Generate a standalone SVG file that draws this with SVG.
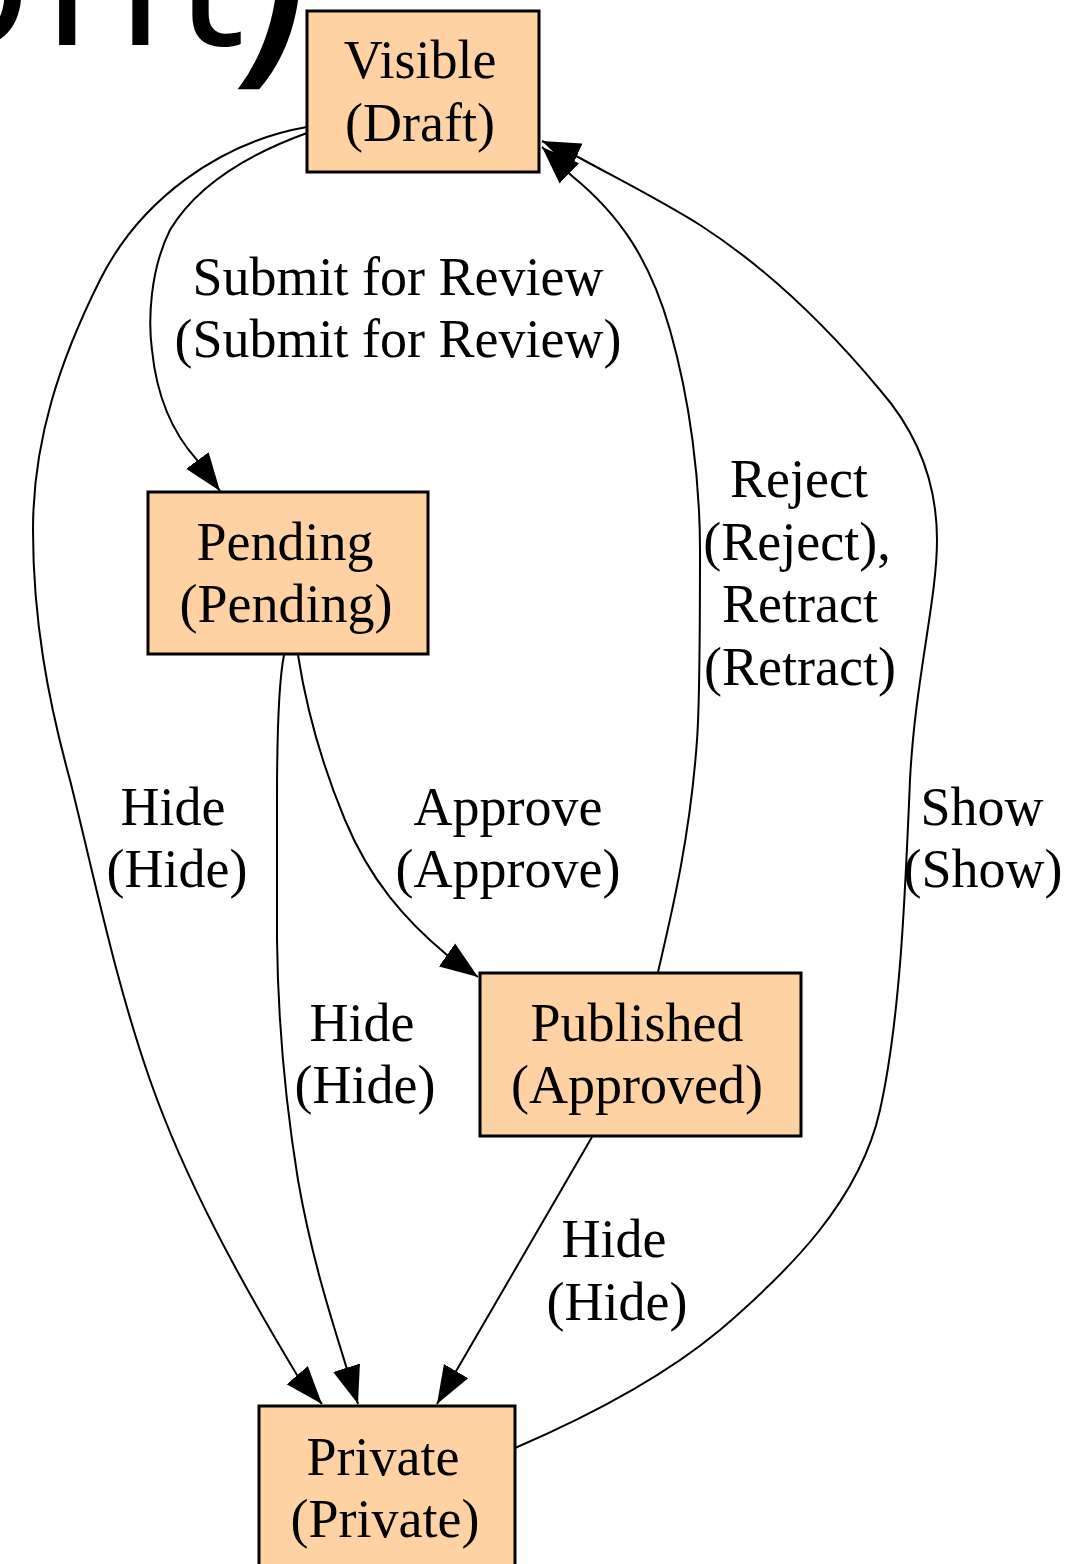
<svg xmlns="http://www.w3.org/2000/svg" width="1076" height="1564" viewBox="0 0 1076 1564">
<defs>
<style>
.node rect{fill:#FFD2A4;stroke:#000;stroke-width:3}
.t{font-family:"Liberation Serif","Times New Roman",serif;font-size:54px;fill:#000;text-anchor:middle}
.edge{fill:none;stroke:#000;stroke-width:2}
.title{font-family:"Open Sans","Noto Sans",sans-serif;font-size:200px;fill:#000}
</style>
<marker id="arr" markerUnits="userSpaceOnUse" markerWidth="38" markerHeight="30" viewBox="0 0 38 30" refX="38" refY="15" orient="auto">
<path d="M0,1 L38,15 L0,29 z" fill="#000"/>
</marker>
</defs>
<rect width="1076" height="1564" fill="#fff"/>
<text class="title" y="45"><tspan x="-88">o</tspan><tspan x="42">n</tspan><tspan x="174">t</tspan><tspan x="229" font-size="280">)</tspan></text>
<g id="connectors">
<path class="edge" marker-end="url(#arr)" d="M307,133 C260,150 200,180 170,230 C150,270 148,320 152,350 C156,390 170,430 197,460 L220,491"/>
<path class="edge" marker-end="url(#arr)" d="M307,127 C220,142 140,200 100,280 C60,360 33,440 33,530 C33,620 48,700 70,780 C95,880 115,980 150,1080 C185,1180 240,1280 297,1375 L322,1404"/>
<path class="edge" marker-end="url(#arr)" d="M284,655 C279,680 277,720 277,800 L277,940 C278,1020 285,1100 298,1180 C312,1260 332,1320 346,1366 L358,1404"/>
<path class="edge" marker-end="url(#arr)" d="M298,655 C305,700 320,760 345,820 C370,880 405,920 447,955 L478,977"/>
<path class="edge" marker-end="url(#arr)" d="M592,1137 L455,1373 L437,1404"/>
<path class="edge" marker-end="url(#arr)" d="M515,1448 C580,1420 660,1380 720,1330 C790,1270 860,1200 880,1110 C900,1020 905,900 910,780 C915,680 937,600 937,540 C937,480 915,430 880,390 C830,330 770,270 700,225 C660,200 620,180 578,157 L542,141"/>
<path class="edge" marker-end="url(#arr)" d="M658,972 C670,920 690,840 697,740 C700,700 700,600 700,550 C700,480 690,400 670,330 C650,260 620,215 572,176 L542,147"/>
</g>
<g id="edge-labels">
<text class="t" x="398" y="295">Submit for Review</text>
<text class="t" x="398" y="357">(Submit for Review)</text>
<text class="t" x="799" y="497">Reject</text>
<text class="t" x="797" y="560">(Reject),</text>
<text class="t" x="800" y="622">Retract</text>
<text class="t" x="800" y="685">(Retract)</text>
<text class="t" x="173" y="825">Hide</text>
<text class="t" x="177" y="887">(Hide)</text>
<text class="t" x="508" y="825">Approve</text>
<text class="t" x="508" y="887">(Approve)</text>
<text class="t" x="982" y="825">Show</text>
<text class="t" x="983" y="887">(Show)</text>
<text class="t" x="362" y="1041">Hide</text>
<text class="t" x="365" y="1103">(Hide)</text>
<text class="t" x="614" y="1257">Hide</text>
<text class="t" x="617" y="1320">(Hide)</text>
</g>
<g id="node-visible" class="node">
<rect x="307" y="11" width="232" height="161"/>
<text class="t" x="420" y="78">Visible</text>
<text class="t" x="420" y="141">(Draft)</text>
</g>
<g id="node-pending" class="node">
<rect x="148" y="492" width="280" height="162"/>
<text class="t" x="285" y="560">Pending</text>
<text class="t" x="286" y="622">(Pending)</text>
</g>
<g id="node-published" class="node">
<rect x="480" y="973" width="321" height="163"/>
<text class="t" x="637" y="1041">Published</text>
<text class="t" x="637" y="1103">(Approved)</text>
</g>
<g id="node-private" class="node">
<rect x="259" y="1406" width="256" height="180"/>
<text class="t" x="383" y="1475">Private</text>
<text class="t" x="385" y="1537">(Private)</text>
</g>
</svg>
